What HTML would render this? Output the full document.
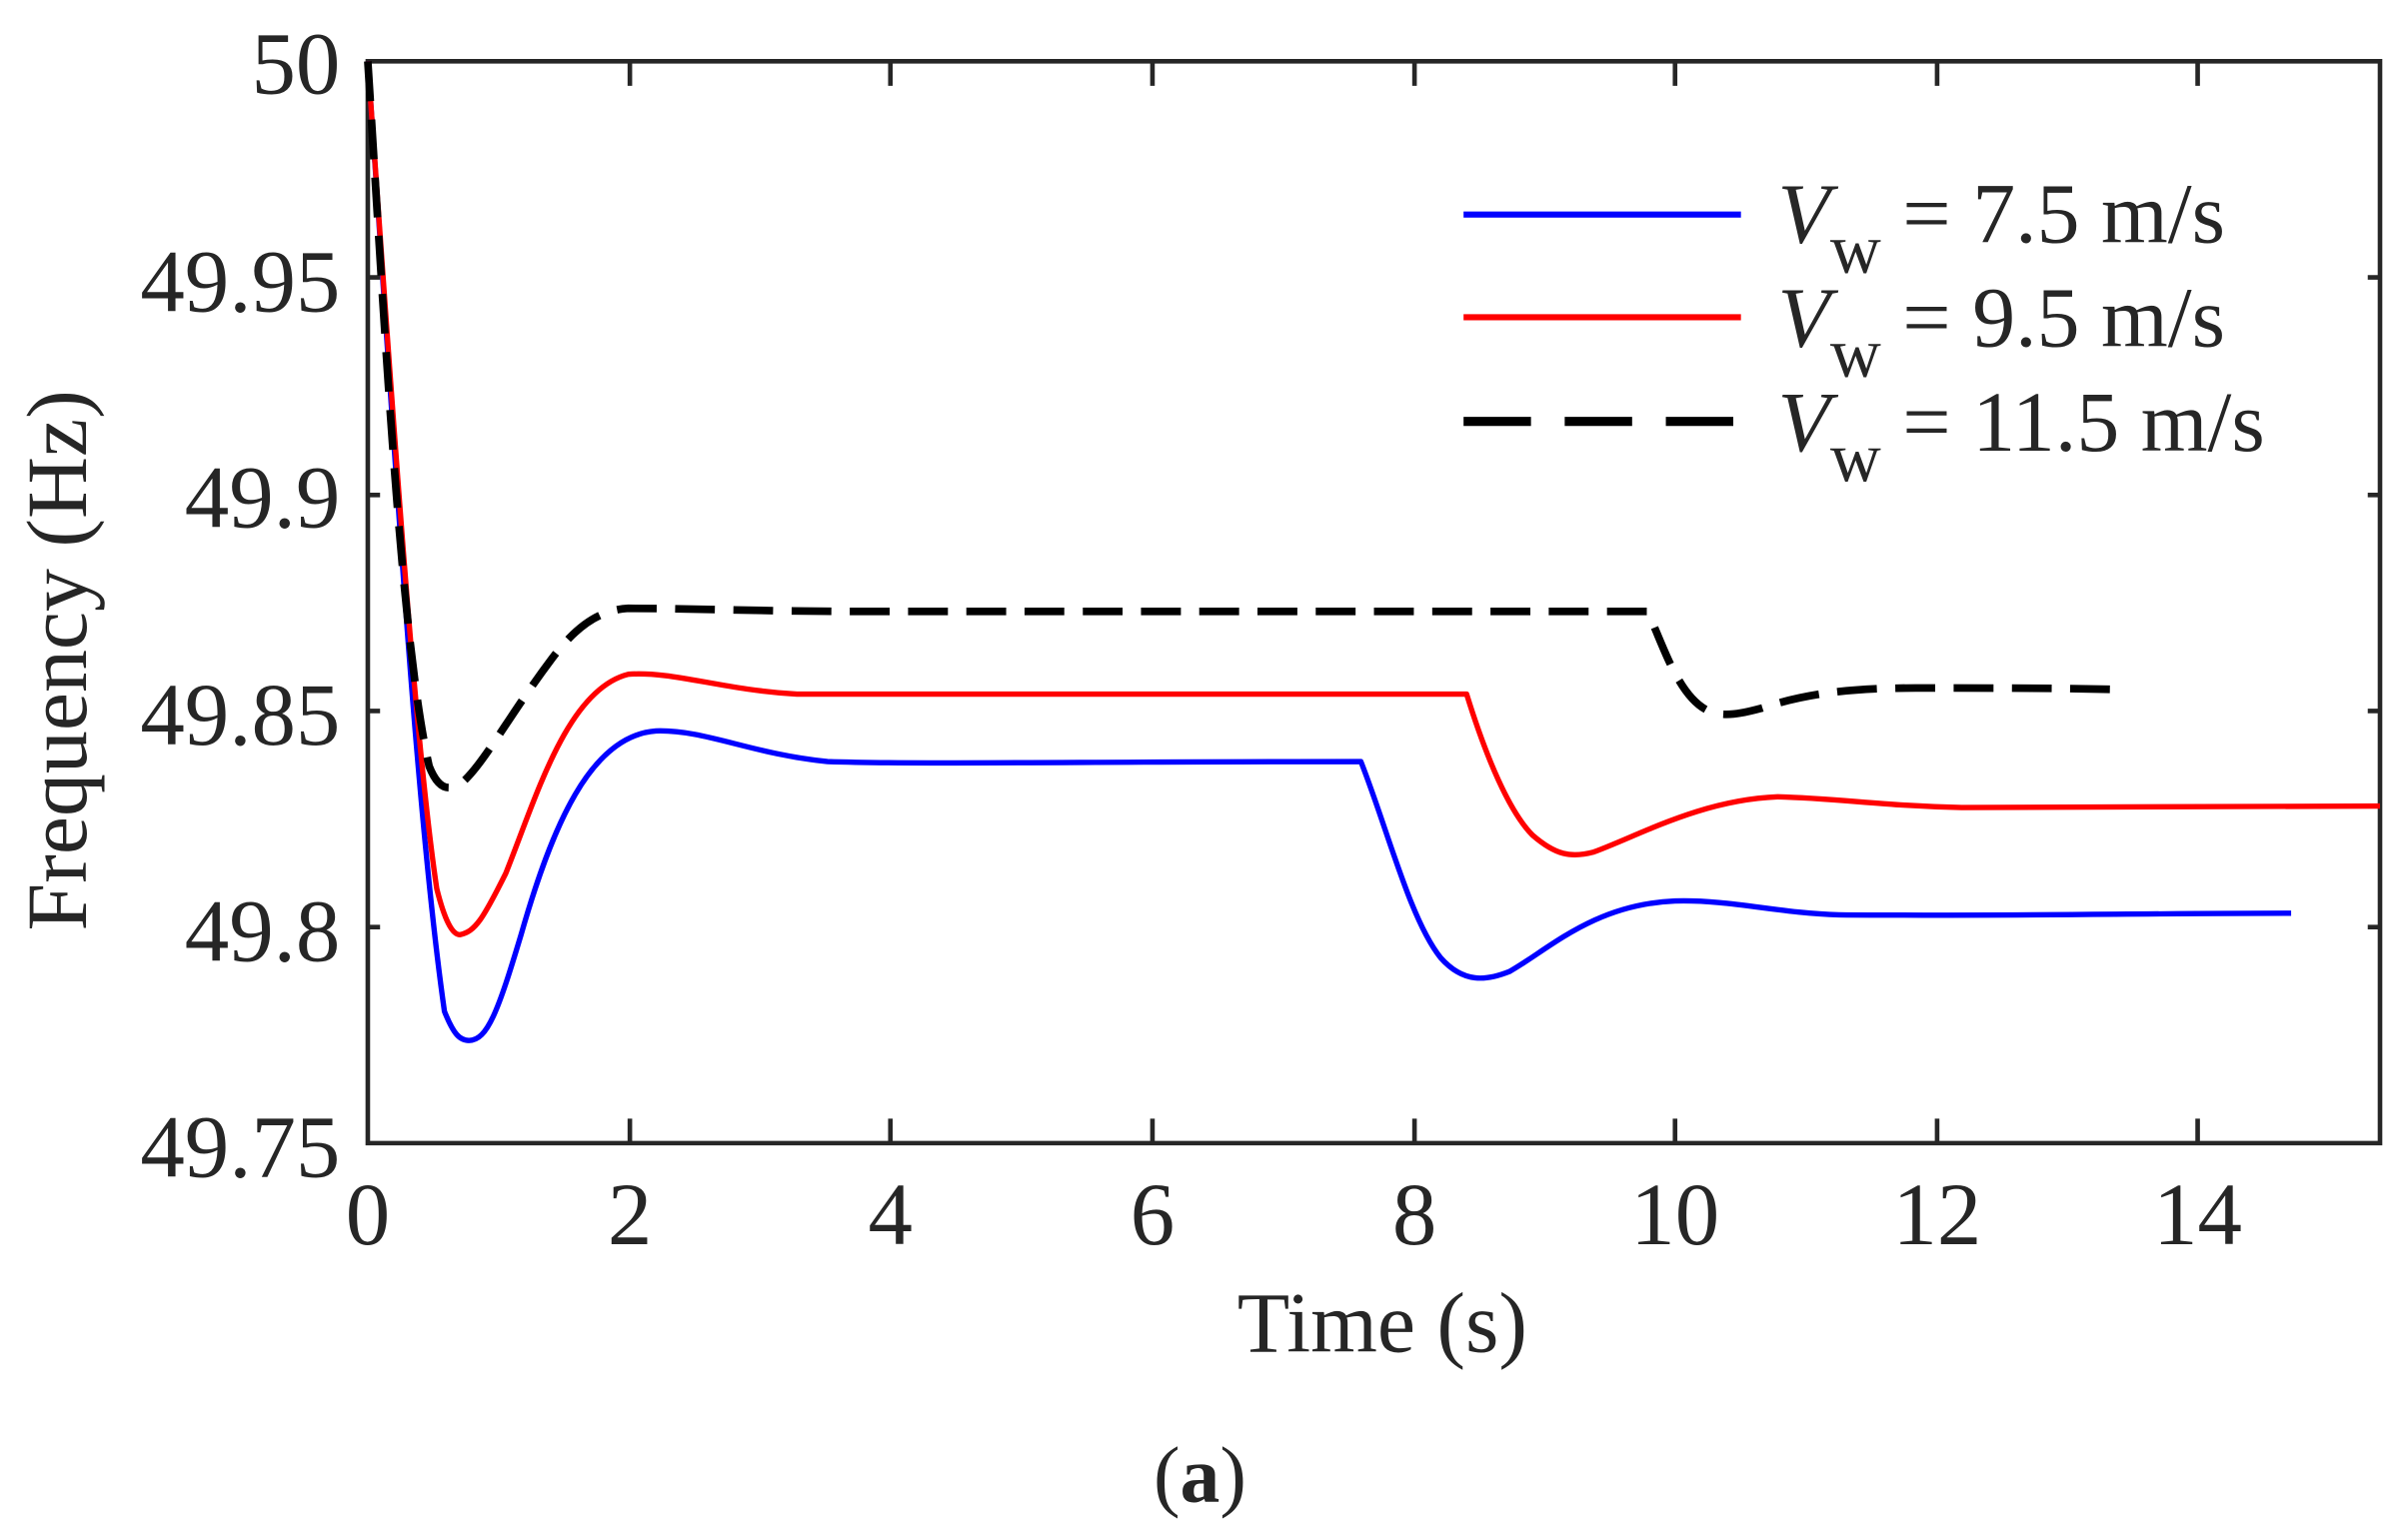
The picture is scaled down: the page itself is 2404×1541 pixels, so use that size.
<!DOCTYPE html>
<html><head><meta charset="utf-8"><style>
html,body{margin:0;padding:0;background:#fff;}
svg{display:block;}
text{font-family:"Liberation Serif",serif;fill:#262626;}
</style></head><body>
<svg width="2404" height="1541" viewBox="0 0 1568 1005" preserveAspectRatio="none" xmlns="http://www.w3.org/2000/svg">
<g stroke="#262626" stroke-width="3" fill="none">
<path d="M240,40 H1553 V746 H240 Z"/>
<path d="M240,181 h8 M240,323 h8 M240,464 h8 M240,605 h8"/>
<path d="M1553,181 h-8 M1553,323 h-8 M1553,464 h-8 M1553,605 h-8"/>
<path d="M411,746 v-16 M581,746 v-16 M752,746 v-16 M923,746 v-16 M1093,746 v-16 M1264,746 v-16 M1434,746 v-16"/>
<path d="M411,40 v16 M581,40 v16 M752,40 v16 M923,40 v16 M1093,40 v16 M1264,40 v16 M1434,40 v16"/>
</g>
<g font-size="58" text-anchor="end">
<text x="222" y="61">50</text>
<text x="222" y="203">49.95</text>
<text x="222" y="344">49.9</text>
<text x="222" y="486">49.85</text>
<text x="222" y="627">49.8</text>
<text x="222" y="768">49.75</text>
</g>
<g font-size="58" text-anchor="middle">
<text x="240" y="812">0</text>
<text x="411" y="812">2</text>
<text x="581" y="812">4</text>
<text x="752" y="812">6</text>
<text x="923" y="812">8</text>
<text x="1093" y="812">10</text>
<text x="1264" y="812">12</text>
<text x="1434" y="812">14</text>
</g>
<text x="902" y="882" font-size="56" text-anchor="middle">Time (s)</text>
<text transform="translate(56,431) rotate(-90)" font-size="56" text-anchor="middle">Frequency (Hz)</text>
<text x="783" y="980" font-size="52" text-anchor="middle">(<tspan font-weight="bold">a</tspan>)</text>
<g fill="none" stroke-width="3.5" stroke-linejoin="round">
<path stroke="#0000ff" d="M240,40 C255,250 270,520 290,660 C296,675 300,679 306,679 C318,679 325,660 340,610 C360,540 385,480 428,477 C460,476 490,492 540,497 C600,499 700,497 888,497 C905,540 920,600 940,625 C955,642 970,640 985,634 C1010,620 1040,590 1093,588 C1130,587 1160,596 1200,597 C1300,598 1400,596 1495,596"/>
<path stroke="#ff0000" d="M240,40 C255,250 270,480 285,580 C290,600 295,610 300,610 C310,608 315,600 330,570 C350,520 370,450 410,440 C440,438 470,450 520,453 C600,454 700,453 957,453 C970,495 985,530 1000,545 C1015,558 1025,560 1040,556 C1070,545 1110,522 1160,520 C1200,521 1230,526 1280,527 C1400,527 1480,526 1553,526"/>
<path stroke="#000000" stroke-width="5" stroke-dasharray="26,12" d="M240,40 C252,230 262,420 280,500 C286,515 292,516 300,512 C315,500 330,470 360,430 C375,410 390,398 410,397 C450,397 500,399 560,399 C700,399 900,399 1075,399 C1085,420 1095,455 1115,464 C1125,468 1135,466 1150,462 C1180,452 1210,449 1250,449 C1300,449 1350,449 1383,450"/>
</g>
<g stroke-width="4">
<line x1="955" y1="140" x2="1136" y2="140" stroke="#0000ff"/>
<line x1="955" y1="207" x2="1136" y2="207" stroke="#ff0000"/>
<line x1="955" y1="275" x2="1136" y2="275" stroke="#000" stroke-width="6" stroke-dasharray="44,22"/>
</g>
<g font-size="56">
<text x="1160" y="158"><tspan font-style="italic">V</tspan><tspan font-size="46" dy="20">w</tspan><tspan dy="-20"> = 7.5 m/s</tspan></text>
<text x="1160" y="226"><tspan font-style="italic">V</tspan><tspan font-size="46" dy="20">w</tspan><tspan dy="-20"> = 9.5 m/s</tspan></text>
<text x="1160" y="294"><tspan font-style="italic">V</tspan><tspan font-size="46" dy="20">w</tspan><tspan dy="-20"> = 11.5 m/s</tspan></text>
</g>
</svg>
</body></html>
